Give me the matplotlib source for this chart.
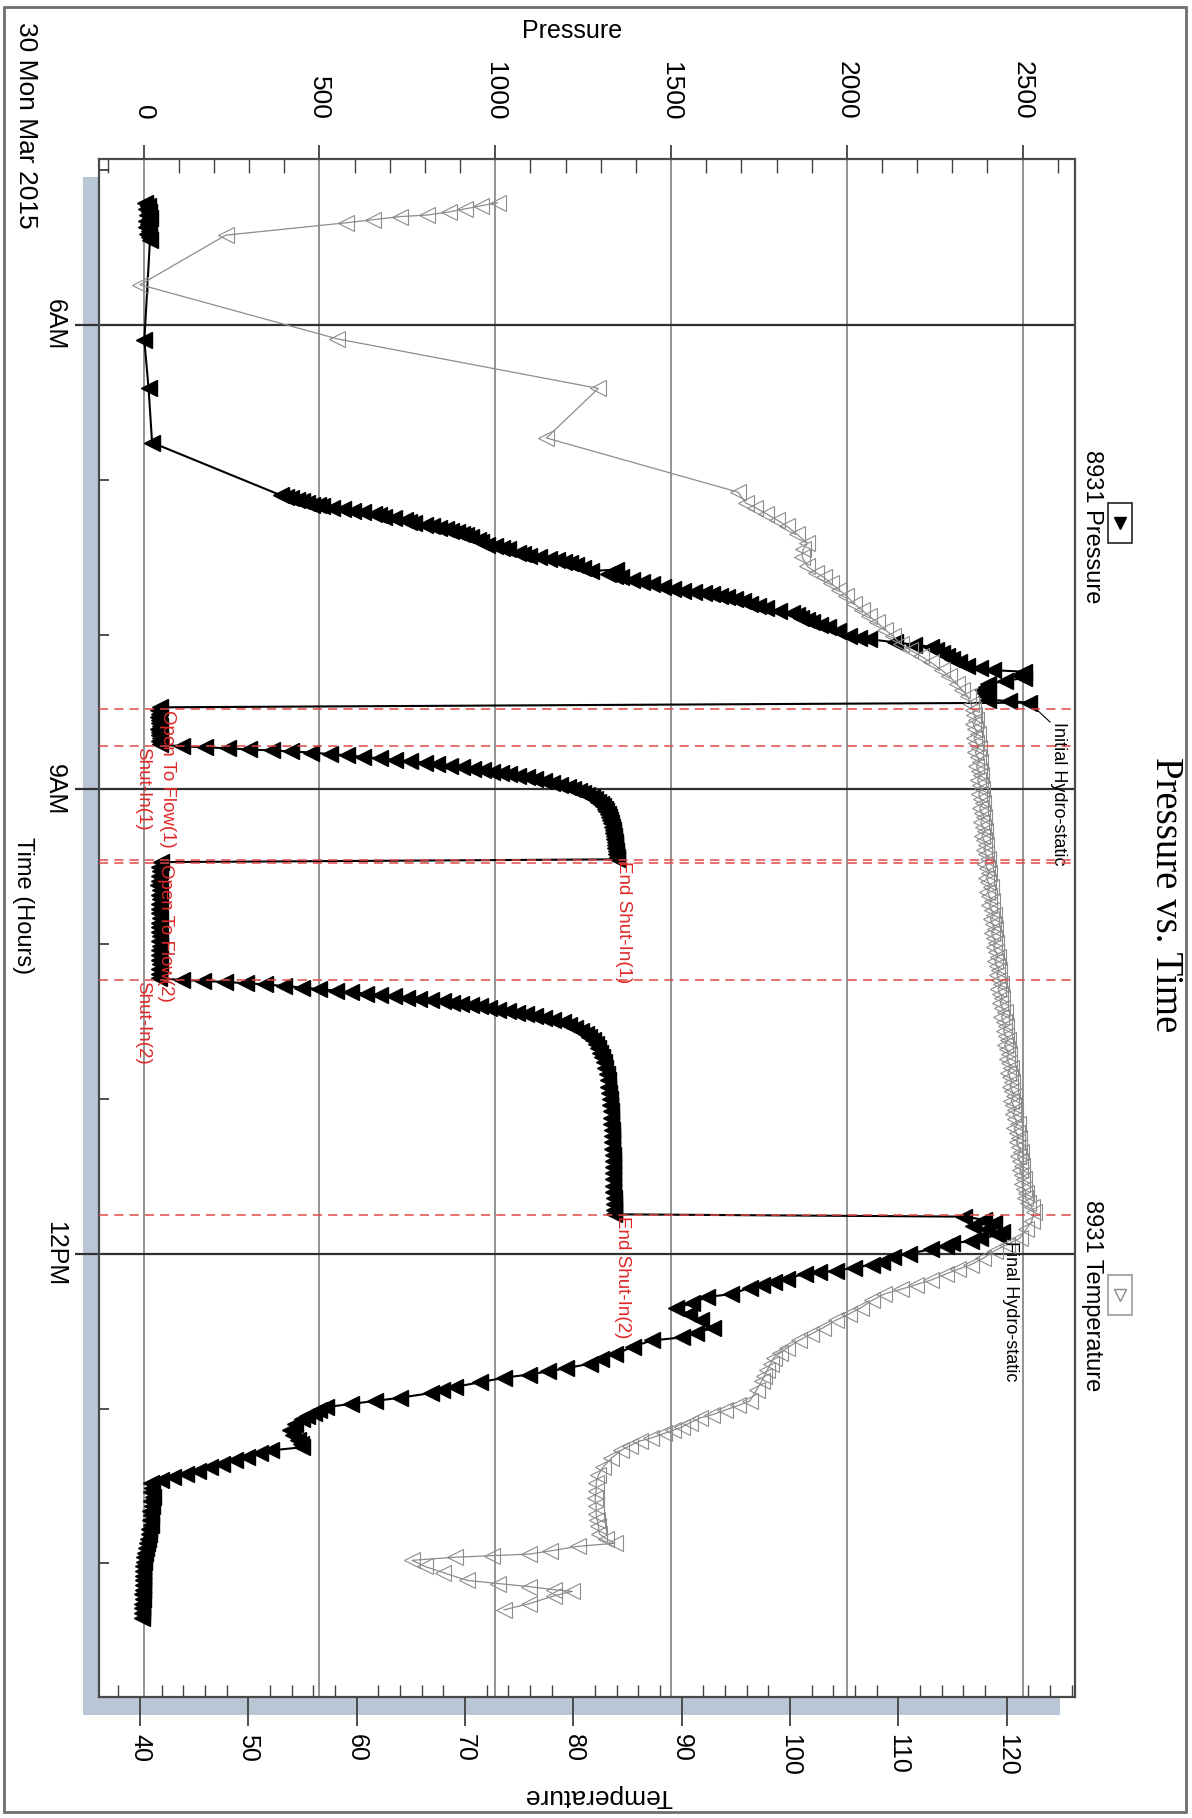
import matplotlib.pyplot as plt
from matplotlib.patches import Rectangle
from matplotlib.lines import Line2D
from matplotlib.ticker import MultipleLocator, FixedLocator, FixedFormatter

plt.rcParams['font.family'] = ['Liberation Sans', 'DejaVu Sans']

# ---- data (time in decimal hours, pressure in psi, temperature in deg) ----
press_time = [
    5.21, 5.23, 5.25, 5.27, 5.29, 5.31, 5.33, 5.35, 5.37, 5.39, 5.41, 5.43, 5.45,
    6.10, 6.41, 6.76,
    7.10, 7.11, 7.12, 7.13, 7.14, 7.15, 7.16, 7.165, 7.17, 7.18, 7.19, 7.20, 7.21, 7.22,
    7.23, 7.24, 7.25, 7.26, 7.27, 7.28, 7.29, 7.30, 7.31, 7.32, 7.33, 7.34, 7.35, 7.36,
    7.37, 7.39, 7.40, 7.42, 7.43, 7.44, 7.45, 7.47, 7.48, 7.49, 7.50, 7.51, 7.52, 7.53,
    7.54, 7.55, 7.57, 7.59, 7.58, 7.60, 7.61, 7.62, 7.63, 7.645, 7.66, 7.675, 7.69, 7.705,
    7.72, 7.725, 7.73, 7.74, 7.75, 7.76, 7.77, 7.785, 7.80, 7.815, 7.83, 7.845, 7.86, 7.875,
    7.89, 7.905, 7.92, 7.935, 7.95, 7.98, 8.01, 8.02, 8.03, 8.05, 8.065, 8.08, 8.10, 8.12,
    8.14, 8.16, 8.18, 8.20, 8.215, 8.23, 8.24, 8.26, 8.28, 8.30, 8.32, 8.34, 8.36, 8.38,
    8.40, 8.42, 8.43, 8.44,
    8.47, 8.49, 8.51, 8.53, 8.55, 8.57, 8.59, 8.61, 8.63, 8.65, 8.67, 8.69, 8.71,
    8.722, 8.728, 8.735, 8.742, 8.748, 8.755, 8.762, 8.772, 8.780, 8.790, 8.800, 8.810,
    8.818, 8.828, 8.838, 8.848, 8.855, 8.866, 8.876, 8.885, 8.893, 8.902, 8.912, 8.922,
    8.932, 8.945, 8.958, 8.970, 8.982, 8.995, 9.010, 9.022, 9.035, 9.050, 9.065, 9.080,
    9.095, 9.110, 9.125, 9.140, 9.160, 9.180, 9.200, 9.220, 9.240, 9.260, 9.280, 9.300,
    9.320, 9.340, 9.360, 9.380, 9.400, 9.420, 9.440, 9.452,
    9.47, 9.50, 9.53, 9.56, 9.59, 9.62, 9.65, 9.68, 9.71, 9.74, 9.77, 9.80, 9.83, 9.86,
    9.89, 9.92, 9.95, 9.98, 10.01, 10.04, 10.07, 10.10, 10.13, 10.16, 10.19, 10.22,
    10.232, 10.238, 10.244, 10.252, 10.260, 10.270, 10.280, 10.290, 10.300, 10.310,
    10.320, 10.328, 10.336, 10.345, 10.354, 10.362, 10.370, 10.378, 10.386, 10.394,
    10.402, 10.412, 10.422, 10.432, 10.442, 10.452, 10.463, 10.476, 10.490, 10.505,
    10.522, 10.540, 10.560, 10.580, 10.600, 10.620, 10.645, 10.670, 10.700, 10.730,
    10.760, 10.800, 10.840, 10.880, 10.920, 10.960, 11.000, 11.040, 11.080, 11.120,
    11.160, 11.200, 11.240, 11.280, 11.320, 11.360, 11.400, 11.440, 11.480, 11.520,
    11.560, 11.600, 11.640, 11.680, 11.720, 11.745,
    11.76, 11.78, 11.80, 11.82, 11.84, 11.86, 11.88, 11.90, 11.92, 11.93, 11.95, 11.97,
    12.00, 12.02, 12.05, 12.07, 12.09, 12.11, 12.12, 12.13, 12.16, 12.18, 12.20, 12.22,
    12.26, 12.28, 12.32, 12.35, 12.39, 12.43, 12.48, 12.51, 12.54, 12.56, 12.60, 12.65,
    12.68, 12.71, 12.74, 12.76, 12.78, 12.80, 12.83, 12.86, 12.88, 12.90, 12.93, 12.95,
    12.97, 12.99, 13.01, 13.03, 13.05, 13.07, 13.10, 13.14, 13.17, 13.20, 13.23, 13.25,
    13.27, 13.29, 13.31, 13.33, 13.36, 13.38, 13.40, 13.42, 13.44, 13.46,
    13.48, 13.51, 13.54, 13.57, 13.60, 13.63, 13.66, 13.69, 13.72, 13.75, 13.78, 13.81,
    13.84, 13.87, 13.90, 13.93, 13.96, 13.99, 14.02, 14.05, 14.08, 14.11, 14.14, 14.17,
    14.20, 14.23, 14.26, 14.29, 14.32, 14.35,
]
press_psi = [
    4, 12, 7, 15, 9, 17, 6, 13, 8, 16, 10, 14, 18,
    2, 14, 24,
    390, 405, 420, 435, 449, 465, 480, 495, 507, 537, 566, 596, 625, 655,
    670, 684, 713, 742, 756, 770, 801, 820, 840, 860, 875, 890, 905, 918,
    930, 950, 960, 977, 1000, 1018, 1036, 1065, 1080, 1095, 1125, 1153, 1175, 1195,
    1212, 1230, 1250, 1271, 1344, 1330, 1320, 1340, 1359, 1390, 1418, 1447, 1476, 1505,
    1535, 1565, 1594, 1617, 1640, 1660, 1682, 1704, 1726, 1748, 1770, 1806, 1843, 1857,
    1870, 1886, 1902, 1924, 1946, 1975, 2005, 2035, 2064, 2137, 2190, 2240, 2255, 2270,
    2285, 2299, 2320, 2343, 2380, 2416, 2504, 2490, 2504, 2450, 2401, 2395, 2387, 2392,
    2395, 2401, 2460, 2519,
    46, 42, 44, 41, 45, 43, 46, 42, 45, 43, 47, 44, 46,
    109, 175, 240, 300, 365, 420, 475, 530, 578, 625, 671, 715,
    758, 800, 835, 870, 906, 936, 966, 990, 1015, 1040, 1064, 1090,
    1113, 1138, 1162, 1185, 1206, 1222, 1238, 1249, 1262, 1275, 1285, 1293,
    1300, 1306, 1311, 1316, 1320, 1324, 1327, 1330, 1332, 1334, 1336, 1337,
    1339, 1340, 1341, 1342, 1343, 1344, 1345, 1346,
    48, 44, 46, 43, 45, 42, 46, 44, 47, 43, 45, 44, 46, 43,
    45, 44, 47, 44, 46, 43, 45, 44, 46, 44, 45, 43,
    110, 170, 232, 290, 345, 400, 450, 500, 546, 590,
    633, 672, 712, 748, 782, 817, 851, 878, 904, 930,
    956, 982, 1008, 1035, 1061, 1087, 1113, 1140, 1165, 1192,
    1210, 1228, 1244, 1258, 1268, 1277, 1286, 1293, 1299, 1304,
    1309, 1313, 1317, 1320, 1322, 1324, 1326, 1327, 1328, 1329,
    1330, 1331, 1332, 1332, 1333, 1334, 1334, 1335, 1335, 1336,
    1336, 1336, 1337, 1337, 1337, 1337,
    2334, 2390, 2420, 2360, 2400, 2440, 2430, 2380, 2352, 2300, 2282, 2240,
    2177, 2130, 2100, 2073, 2020, 1968, 1920, 1880, 1830, 1793, 1760, 1724,
    1671, 1601, 1560, 1514, 1550, 1584, 1619, 1570, 1532, 1445, 1392, 1340,
    1300, 1270, 1200, 1150, 1096, 1026, 956, 886, 850, 816, 729, 659,
    590, 520, 500, 485, 465, 450, 430, 415, 425, 440, 448, 450,
    363, 330, 293, 260, 223, 190, 154, 120, 84, 50,
    20, 24, 22, 26, 21, 23, 19, 22, 18, 20, 15, 14,
    12, 10, 6, 3, 2, 0, -1, -2, -2, -3, -3, -3,
    -4, -3, -4, -4, -4, -5,
]

temp_time = [
    5.21, 5.23, 5.25, 5.27, 5.29, 5.30, 5.32, 5.34, 5.42, 5.74, 6.09, 6.41, 6.73, 7.08,
    7.15, 7.18, 7.22, 7.26, 7.30, 7.35, 7.41, 7.45, 7.50, 7.56, 7.60, 7.63, 7.67, 7.71,
    7.75, 7.80, 7.84, 7.88, 7.92, 7.97, 8.01, 8.06, 8.10, 8.14, 8.18, 8.23, 8.27, 8.32,
    8.36, 8.40, 8.45, 8.49,
    8.52, 8.55, 8.58, 8.61, 8.64, 8.67, 8.70, 8.73, 8.76, 8.79, 8.82, 8.85,
    8.88, 8.91, 8.94, 8.97, 9.00, 9.03, 9.06, 9.09, 9.12, 9.15, 9.18, 9.21,
    9.24, 9.27, 9.30, 9.33, 9.36, 9.39, 9.42, 9.45, 9.48, 9.51, 9.54, 9.57,
    9.60, 9.63, 9.66, 9.69, 9.72, 9.75, 9.78, 9.81, 9.84, 9.87, 9.90, 9.93,
    9.96, 9.99, 10.02, 10.05, 10.08, 10.11, 10.14, 10.17, 10.20, 10.23, 10.26, 10.29,
    10.32, 10.35, 10.38, 10.41, 10.44, 10.47, 10.50, 10.53, 10.56, 10.59, 10.62, 10.65,
    10.68, 10.71, 10.74, 10.77, 10.80, 10.83, 10.86, 10.89, 10.92, 10.95, 10.98, 11.01,
    11.04, 11.07, 11.10, 11.13, 11.16, 11.19, 11.22, 11.25, 11.28, 11.31, 11.34, 11.37,
    11.40, 11.43, 11.46, 11.49, 11.52, 11.55, 11.58, 11.61, 11.64, 11.67, 11.70, 11.73,
    11.79, 11.84, 11.90, 11.94, 11.98, 12.03, 12.07, 12.10, 12.13, 12.17, 12.20, 12.23,
    12.26, 12.30, 12.35, 12.39, 12.43, 12.48, 12.52, 12.56, 12.61, 12.64, 12.67, 12.71,
    12.75, 12.79, 12.82, 12.88, 12.95, 12.98, 13.01, 13.04, 13.06, 13.09, 13.12, 13.14,
    13.16, 13.19, 13.21, 13.24, 13.27, 13.32, 13.38, 13.43, 13.48, 13.53, 13.58, 13.63,
    13.68, 13.72, 13.76, 13.81, 13.84, 13.87, 13.89, 13.92, 13.94, 13.95, 13.96, 13.98,
    14.02, 14.06, 14.11, 14.13, 14.15, 14.17, 14.18, 14.21, 14.26, 14.30,
]
temp_degc = [
    73.0, 71.5, 70.0, 68.5, 66.5, 64.0, 61.5, 59.0, 47.9, 40.0, 58.2, 82.3, 77.5, 95.2,
    95.9, 96.8, 97.8, 98.8, 99.7, 100.6, 101.6, 101.2, 101.1, 101.6, 102.4, 103.1, 103.8, 104.5,
    105.2, 105.9, 106.6, 107.3, 108.0, 108.8, 109.5, 110.2, 111.1, 112.1, 113.0, 114.0, 114.7, 115.4,
    115.9, 116.4, 116.7, 116.9,
    117.0, 117.2, 116.9, 117.1, 117.3, 117.0, 117.2, 117.4, 117.1, 117.3, 117.5, 117.2,
    117.4, 117.6, 117.3, 117.5, 117.7, 117.4, 117.6, 117.8, 117.5, 117.7, 117.9, 117.6,
    117.8, 118.0, 117.7, 117.9, 118.1, 117.9, 118.1, 118.3, 118.0, 118.2, 118.4, 118.1,
    118.3, 118.5, 118.2, 118.4, 118.6, 118.4, 118.6, 118.8, 118.5, 118.7, 118.9, 118.6,
    118.8, 119.0, 118.8, 119.0, 119.2, 118.9, 119.1, 119.3, 119.1, 119.3, 119.5, 119.2,
    119.4, 119.6, 119.4, 119.6, 119.8, 119.5, 119.7, 119.9, 119.7, 119.9, 120.1, 119.8,
    120.0, 120.2, 120.0, 120.2, 120.4, 120.1, 120.3, 120.5, 120.3, 120.5, 120.7, 120.4,
    120.6, 120.8, 120.6, 120.8, 121.0, 120.7, 120.9, 121.1, 120.9, 121.1, 121.3, 121.0,
    121.2, 121.4, 121.2, 121.4, 121.6, 121.4, 121.6, 121.8, 121.7, 122.0, 122.3, 122.5,
    122.3, 121.8, 121.2, 120.0, 118.9, 117.8, 116.7, 115.5, 114.4, 113.0, 111.6, 110.2,
    108.7, 107.6, 106.5, 105.4, 104.2, 103.0, 101.9, 100.8, 99.7, 99.1, 98.5, 98.2,
    97.9, 97.6, 97.4, 96.9, 96.3, 95.2, 94.0, 92.8, 91.7, 90.8, 90.0, 89.2,
    88.4, 87.2, 86.1, 85.2, 84.4, 83.5, 82.7, 82.3, 82.1, 82.1, 82.0, 82.1,
    82.1, 82.2, 82.3, 82.4, 83.0, 83.8, 80.4, 77.8, 75.9, 72.5, 69.1, 65.1,
    66.3, 68.0, 70.2, 73.0, 75.9, 78.2, 79.9, 78.2, 75.9, 73.6,
]

event_times = [8.478, 8.718, 9.454, 9.476, 10.23, 11.75]
event_labels = ['Open To Flow(1)', 'Shut-In(1)', 'End Shut-In(1)',
                'Open To Flow(2)', 'Shut-In(2)', 'End Shut-In(2)']
event_label_psi = [44, 22, 1340, 38, 22, 1338]
event_label_side = ['left', 'right', 'left', 'left', 'right', 'left']

time_ticks = [6, 9, 12]
time_labels = ['6AM', '9AM', '12PM']

# ---- layout helpers (pixel positions in the 1192x1818 picture) ----
W, H = 1192, 1818


def fx(px):
    return px / W


def fy(py):
    return 1 - py / H


fig = plt.figure(figsize=(W / 100, H / 100), dpi=100)

# drop shadow behind the plot frame
fig.add_artist(Rectangle((fx(83), fy(1715)), fx(1060) - fx(83), fy(177) - fy(1715),
                         transform=fig.transFigure, fc='#b9c6d6', ec='none', zorder=-1))
# outer border
fig.add_artist(Rectangle((fx(4), fy(1812)), fx(1186) - fx(4), fy(7) - fy(1812),
                         transform=fig.transFigure, fill=False, ec='#6e6e6e', lw=2))

ax = fig.add_axes([fx(99), fy(1697), fx(1075) - fx(99), fy(159) - fy(1697)])
ax_t = ax.twiny()
ax.xaxis.tick_top()
ax_t.xaxis.tick_bottom()

ax.set_xlim(-127, 2649)
ax.set_ylim(14.863, 4.928)
ax_t.set_xlim(36.2, 126.3)

# pressure axis (top)
ax.xaxis.set_major_locator(MultipleLocator(500))
ax.xaxis.set_minor_locator(MultipleLocator(100))
ax.tick_params(axis='x', which='major', direction='out', length=10, width=1.3,
               color='#404040', labelsize=19, labelrotation=270, pad=18)
ax.tick_params(axis='x', which='minor', direction='in', length=10, width=1.0, color='#404040')

# time axis (left)
ax.yaxis.set_major_locator(FixedLocator(time_ticks))
ax.yaxis.set_major_formatter(FixedFormatter(time_labels))
ax.yaxis.set_minor_locator(MultipleLocator(1))
ax.tick_params(axis='y', which='major', direction='out', length=17, width=1.6,
               color='#303030', labelsize=18, labelrotation=270, pad=6)
ax.tick_params(axis='y', which='minor', direction='in', length=7, width=1.2, color='#303030')
for lab in ax.get_yticklabels():
    lab.set_va('center')

ax.grid(axis='x', which='major', color='#808080', lw=1.2, zorder=0)
ax.grid(axis='y', which='major', color='#303030', lw=1.6, zorder=0)

# temperature axis (bottom)
ax_t.xaxis.set_major_locator(MultipleLocator(10))
ax_t.xaxis.set_minor_locator(MultipleLocator(2))
ax_t.tick_params(axis='x', which='major', direction='out', length=21, width=1.3,
                 color='#404040', labelsize=18, labelrotation=270, pad=6)
ax_t.tick_params(axis='x', which='minor', direction='in', length=9, width=1.0, color='#404040')

for sp in ax.spines.values():
    sp.set_color('#4a4a4a')
    sp.set_linewidth(1.6)
for sp in ax_t.spines.values():
    sp.set_visible(False)

# series
ax.plot(press_psi, press_time, color='black', lw=1.5, marker='<', ms=12,
        mfc='black', mec='black', zorder=3)
ax_t.plot(temp_degc, temp_time, color='#8c8c8c', lw=0.9, marker='<', ms=11,
          mfc='none', mec='#8c8c8c', mew=0.8, zorder=2)

# test events
for t in event_times:
    ax_t.axhline(t, color='#e04848', lw=1.1, ls=(0, (6, 4)), zorder=4)
for t, lab, p, side in zip(event_times, event_labels, event_label_psi, event_label_side):
    ax_t.text(p, t + 0.008, lab, transform=ax.transData, rotation=270, ha=side, va='top',
              color='#e02828', fontsize=13.5, zorder=5)

# hydrostatic annotations
ax.plot([2519, 2578], [8.44, 8.565], color='black', lw=0.8, zorder=4)
ax.text(2578, 8.565, 'Initial Hydro-static', rotation=270, ha='left', va='top',
        fontsize=13, zorder=5)
ax.plot([2400, 2440], [11.80, 11.92], color='black', lw=0.8, zorder=4)
ax_t.text(2440, 11.92, 'Final Hydro-static', transform=ax.transData, rotation=270,
          ha='left', va='top', fontsize=13, zorder=5)

# legend entries on the right
fig.text(fx(1092), fy(527), '8931 Pressure', rotation=270, ha='center', va='center', fontsize=17)
fig.add_artist(Rectangle((fx(1108), fy(543)), fx(1132) - fx(1108), fy(503) - fy(543),
                         transform=fig.transFigure, fill=False, ec='#202020', lw=1.2))
fig.add_artist(Line2D([fx(1120)], [fy(523)], transform=fig.transFigure, marker='v', ms=9,
                      color='black', ls='none'))
fig.text(fx(1092), fy(1296), '8931 Temperature', rotation=270, ha='center', va='center', fontsize=17)
fig.add_artist(Rectangle((fx(1108), fy(1315)), fx(1132) - fx(1108), fy(1275) - fy(1315),
                         transform=fig.transFigure, fill=False, ec='#9a9a9a', lw=1.2))
fig.add_artist(Line2D([fx(1120)], [fy(1295)], transform=fig.transFigure, marker='v', ms=9,
                      mfc='none', mec='#8c8c8c', ls='none'))

# titles and axis labels
fig.text(fx(1166), fy(895), 'Pressure vs. Time', rotation=270, ha='center', va='center',
         fontsize=28, family='Liberation Serif')
fig.text(fx(572), fy(31), 'Pressure', ha='center', va='center', fontsize=18)
fig.text(fx(598), fy(1796), 'Temperature', rotation=180, ha='center', va='center', fontsize=19)
fig.text(fx(23), fy(906), 'Time (Hours)', rotation=270, ha='center', va='center', fontsize=17)
fig.text(fx(26), fy(22), '30 Mon Mar 2015', rotation=270, ha='center', va='top', fontsize=19)

fig.savefig('out.png', dpi=100)
